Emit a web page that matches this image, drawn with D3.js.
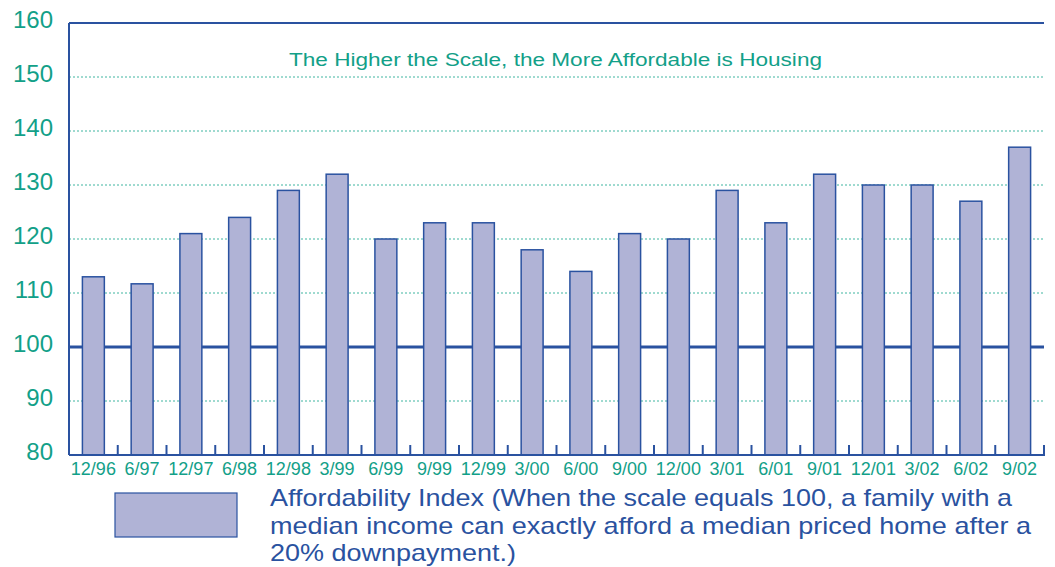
<!DOCTYPE html>
<html><head><meta charset="utf-8">
<script src="https://cdn.jsdelivr.net/npm/d3@7"></script>
<style>body{margin:0;background:#fff;} svg{display:block;font-family:"Liberation Sans",Arial,sans-serif;}</style>
</head><body>
<svg id="c" width="1055" height="567"></svg>
<script>
const categories = ["12/96","6/97","12/97","6/98","12/98","3/99","6/99","9/99","12/99","3/00","6/00","9/00","12/00","3/01","6/01","9/01","12/01","3/02","6/02","9/02"];
const values = [113,111.7,121,124,129,132,120,123,123,118,114,121,120,129,123,132,130,130,127,137];
const yTicks = [80,90,100,110,120,130,140,150,160];
const gridTicks = [90,110,120,130,140,150];
const title = "The Higher the Scale, the More Affordable is Housing";
const legendLines = ["Affordability Index (When the scale equals 100, a family with a","median income can exactly afford a median priced home after a","20% downpayment.)"];
const legendWidths = [742, 761, 246];

const teal = "#12a088", blue = "#2a52a0", barFill = "#b0b3d6";
const svg = d3.select("#c");
const L = 69, R = 1044, T = 23, B = 455;
const x = d3.scaleBand().domain(categories).range([L, R]).paddingInner(0.55).paddingOuter(0.275);
const y = d3.scaleLinear().domain([80,160]).range([B, T]);
const step = x.step();

// grid
svg.append("g").selectAll("line").data(gridTicks).join("line")
  .attr("x1", L).attr("x2", R).attr("y1", d=>y(d)).attr("y2", d=>y(d))
  .attr("stroke", "#3fb5a0").attr("stroke-width", 1).attr("stroke-dasharray", "2,2");
// 100 line
svg.append("line").attr("x1", L).attr("x2", R).attr("y1", y(100)).attr("y2", y(100))
  .attr("stroke", blue).attr("stroke-width", 3);

// bars
svg.append("g").selectAll("rect").data(values).join("rect")
  .attr("x", (d,i)=>x(categories[i])).attr("width", x.bandwidth())
  .attr("y", d=>y(d)).attr("height", d=>B - y(d))
  .attr("fill", barFill).attr("stroke", blue).attr("stroke-width", 1.5);

// axes lines
svg.append("line").attr("x1", L).attr("x2", L).attr("y1", T).attr("y2", B).attr("stroke", blue).attr("stroke-width", 2);
svg.append("line").attr("x1", L).attr("x2", R).attr("y1", T).attr("y2", T).attr("stroke", blue).attr("stroke-width", 2);
svg.append("line").attr("x1", L).attr("x2", R+1).attr("y1", B).attr("y2", B).attr("stroke", blue).attr("stroke-width", 2);
// x ticks at band boundaries
svg.append("g").selectAll("line").data(categories).join("line")
  .attr("x1", d=>x(d) + x.bandwidth() + (step - x.bandwidth())/2)
  .attr("x2", d=>x(d) + x.bandwidth() + (step - x.bandwidth())/2)
  .attr("y1", B).attr("y2", B-10).attr("stroke", blue).attr("stroke-width", 2);

// y labels
svg.append("g").selectAll("text").data(yTicks).join("text")
  .attr("x", 53).attr("y", d=>y(d) - 4).attr("dy", "0.36em").attr("text-anchor","end")
  .attr("fill", teal).attr("font-size", 24).text(d=>d);
// x labels
svg.append("g").selectAll("text").data(categories).join("text")
  .attr("x", d=>x(d)+x.bandwidth()/2).attr("y", 475).attr("text-anchor","middle")
  .attr("fill", teal).attr("font-size", 18).text(d=>d);

// title
svg.append("text").attr("x", 289).attr("y", 66)
  .attr("textLength", 533).attr("lengthAdjust", "spacingAndGlyphs")
  .attr("fill", teal).attr("font-size", 17.5).text(title);

// legend
svg.append("rect").attr("x", 115).attr("y", 493).attr("width", 122).attr("height", 44)
  .attr("fill", barFill).attr("stroke", blue).attr("stroke-width", 1.2);
svg.append("g").selectAll("text").data(legendLines).join("text")
  .attr("x", 270).attr("y", (d,i)=>506 + i*27.7)
  .attr("textLength", (d,i)=>legendWidths[i]).attr("lengthAdjust", "spacingAndGlyphs")
  .attr("fill", blue).attr("font-size", 24).text(d=>d);
</script>
</body></html>
